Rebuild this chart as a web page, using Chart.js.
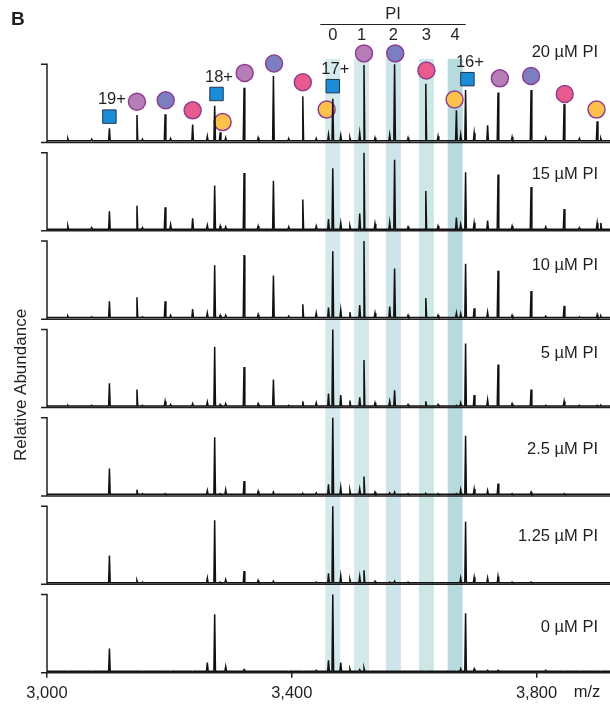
<!DOCTYPE html>
<html>
<head>
<meta charset="utf-8">
<script src="https://cdn.jsdelivr.net/npm/chart.js@4"></script>
<style>
  body { margin: 0; background: #fff; }
</style>
</head>
<body>
<canvas id="ms" width="610" height="704"></canvas>
<script>
// panels, top to bottom
const panelLabels = ['20 µM PI', '15 µM PI', '10 µM PI', '5 µM PI', '2.5 µM PI', '1.25 µM PI', '0 µM PI'];

// main peaks: 19+ (0-4 PI), 18+ (0-4), 17+ (0-4), 16+ (0-4); 18+ with 4 PI sits under 17+ apo
const peakMz = [3102, 3147, 3193, 3238, 3274, 3283, 3322, 3370, 3418, 3467, 3518, 3568, 3619, 3669, 3684, 3737, 3791, 3845, 3899];
const peaks20 = [18, 35, 36, 23, 47, 13, 70, 85, 59, 56, 99, 100, 75, 41, 67, 64, 67, 49, 27];
const peaks15 = [25, 32, 30, 16, 58, 6, 74, 64, 40, 80, 100, 91, 51, 17, 75, 72, 56, 28, 10];
const peaks10 = [23, 28, 23, 13, 69, 5, 82, 56, 19, 87, 100, 65, 27, 8, 71, 62, 36, 17, 6];
const peaks5 = [31, 23, 8, 5, 78, 4, 52, 36, 8, 100, 61, 22, 8, 3, 82, 55, 23, 8, 3];
const peaks2p5 = [35, 8, 3, 2, 75, 3, 19, 5, 3, 100, 25, 5, 3, 3, 77, 16, 5, 3, 2];
const peaks1p25 = [37, 5, 2, 2, 82, 3, 17, 4, 2, 100, 18, 4, 2, 2, 80, 10, 3, 2, 2];
const peaks0 = [31, 2, 1, 1, 75, 2, 4, 2, 1, 100, 6, 2, 1, 1, 76, 3, 2, 1, 1];

// small adduct / noise spikes
const minorMz = [3034, 3073, 3156, 3202, 3262, 3292, 3345, 3395, 3440, 3460, 3480, 3495, 3511, 3536, 3560, 3590, 3639, 3676, 3698, 3720, 3760, 3815, 3870, 3905];
const minor20 = [5, 4, 4, 5, 8, 6, 6, 5, 5, 10, 9, 6, 12, 6, 10, 6, 8, 10, 12, 22, 7, 6, 5, 5];
const minor15 = [6, 4, 4, 8, 7, 5, 6, 5, 6, 15, 10, 6, 22, 9, 11, 5, 6, 8, 10, 13, 6, 5, 4, 10];
const minor10 = [4, 3, 3, 5, 8, 5, 6, 4, 8, 15, 12, 9, 18, 8, 16, 5, 5, 7, 14, 9, 5, 4, 3, 4];
const minor5 = [3, 3, 3, 4, 7, 5, 5, 3, 6, 18, 16, 9, 13, 6, 8, 4, 4, 6, 16, 10, 5, 3, 3, 3];
const minor2p5 = [2, 2, 3, 2, 7, 8, 6, 2, 4, 15, 11, 7, 9, 5, 4, 3, 3, 8, 9, 7, 3, 2, 2, 2];
const minor1p25 = [2, 2, 3, 2, 8, 6, 5, 2, 3, 14, 11, 6, 10, 4, 3, 3, 2, 8, 9, 8, 3, 2, 2, 2];
const minor0 = [1, 1, 1, 1, 13, 8, 2, 1, 3, 16, 13, 5, 4, 2, 2, 2, 2, 5, 5, 3, 2, 3, 1, 1];

const panelPeaks = [peaks20, peaks15, peaks10, peaks5, peaks2p5, peaks1p25, peaks0];
const panelMinor = [minor20, minor15, minor10, minor5, minor2p5, minor1p25, minor0];

// symbols above the 20 uM spectrum
const markerMz = [3102, 3147, 3194, 3238, 3277, 3287, 3323, 3371, 3418, 3457, 3467, 3518, 3569, 3620, 3666, 3687, 3740, 3791, 3846, 3898];
const markerLevel = [33, 52, 54, 41, 62, 26, 89, 101, 77, 42, 72, 114, 114, 92, 55, 81, 82, 85, 62, 42];
const markerKind = ['sq', 'pur', 'blu', 'pink', 'sq', 'yel', 'pur', 'blu', 'pink', 'yel', 'sq', 'pur', 'blu', 'pink', 'yel', 'sq', 'pur', 'blu', 'pink', 'yel'];
const chargeLabels = ['19+', '18+', '17+', '16+'];

// PI-bound 17+ bands
const bandMz = [3467, 3514, 3566, 3620, 3667];
const bandLabels = ['0', '1', '2', '3', '4'];
const xTicks = [3000, 3400, 3800];

const ink = '#231f20';
const font = '"Liberation Sans", Arial, sans-serif';
const bandColors = ['#d6e9ed', '#d4e9e9', '#cde4ea', '#cde6e6', '#b7dadf'];
const bandHalf = 12.25;
const fills = { sq: '#1a8cd8', pur: '#b67db6', blu: '#7b7fc1', pink: '#e95a8d', yel: '#fcc24c' };
const labelRaise = [90, 56, 54, 54, 46, 48, 45];
const base = 2;

function trace(main, minor) {
  const pts = [];
  peakMz.forEach((m, i) => pts.push([m, main[i]]));
  minorMz.forEach((m, i) => pts.push([m, minor[i]]));
  pts.sort((a, b) => a[0] - b[0]);
  const out = [{x: 3000, y: base}];
  pts.forEach(function(p) {
    out.push({x: p[0] - 1.3, y: base}, {x: p[0], y: p[1]}, {x: p[0] + 1.3, y: base});
  });
  out.push({x: 3920, y: base});
  return out;
}

const datasets = panelLabels.map(function(lab, i) {
  return {
    label: lab,
    type: 'line',
    yAxisID: 'p' + i,
    data: trace(panelPeaks[i], panelMinor[i]),
    borderColor: '#111',
    borderWidth: 1.5,
    pointRadius: 0,
    tension: 0
  };
});

datasets.push({
  label: 'markers',
  type: 'scatter',
  yAxisID: 'p0',
  data: markerMz.map((m, i) => ({x: m, y: markerLevel[i]})),
  pointStyle: markerKind.map(k => k === 'sq' ? 'rect' : 'circle'),
  pointRadius: markerKind.map(k => k === 'sq' ? 9.5 : 8.5),
  pointBackgroundColor: markerKind.map(k => fills[k]),
  pointBorderColor: markerKind.map(k => k === 'sq' ? '#1f3550' : '#8e3f94'),
  pointBorderWidth: markerKind.map(k => k === 'sq' ? 1 : 1.5),
  clip: false
});

const scales = {
  x: {
    type: 'linear',
    min: 3000,
    max: 3920,
    afterBuildTicks: function(s) { s.ticks = xTicks.map(v => ({value: v})); },
    ticks: {
      color: ink,
      font: {family: font, size: 16.5, lineHeight: 1.2},
      padding: 6,
      maxRotation: 0,
      callback: v => v.toLocaleString('en-US')
    },
    grid: {drawOnChartArea: false, drawTicks: true, tickLength: 5, color: ink, lineWidth: 1.5},
    border: {display: false}
  }
};
panelLabels.forEach(function(lab, i) {
  scales['p' + i] = {
    type: 'linear',
    position: 'left',
    stack: 'panels',
    stackWeight: 1,
    weight: 10 - i,
    min: 0,
    max: 113.2,
    display: false
  };
});

const decor = {
  id: 'decor',
  beforeDatasetsDraw(chart) {
    const ctx = chart.ctx, x = chart.scales.x, area = chart.chartArea;
    const yTop = chart.scales.p0.getPixelForValue(107);
    ctx.save();
    bandMz.forEach(function(m, i) {
      const l = x.getPixelForValue(m - bandHalf), r = x.getPixelForValue(m + bandHalf);
      ctx.fillStyle = bandColors[i];
      ctx.fillRect(l, yTop, r - l, area.bottom - yTop);
    });
    ctx.strokeStyle = ink;
    ctx.lineWidth = 1.5;
    panelLabels.forEach(function(lab, i) {
      const s = chart.scales['p' + i];
      const y0 = s.getPixelForValue(0), y1 = s.getPixelForValue(100);
      ctx.beginPath();
      ctx.moveTo(area.left - 6, y1);
      ctx.lineTo(area.left, y1);
      ctx.lineTo(area.left, y0);
      ctx.moveTo(area.left - 6, y0);
      ctx.lineTo(area.right, y0);
      ctx.stroke();
    });
    ctx.restore();
  },
  afterDatasetsDraw(chart) {
    const ctx = chart.ctx, x = chart.scales.x, area = chart.chartArea, p0 = chart.scales.p0;
    ctx.save();
    ctx.fillStyle = ink;
    ctx.textBaseline = 'middle';
    ctx.font = '16.5px ' + font;
    ctx.textAlign = 'right';
    panelLabels.forEach(function(lab, i) {
      const y0 = chart.scales['p' + i].getPixelForValue(0);
      ctx.fillText(lab, 598, y0 - labelRaise[i]);
    });
    // charge state labels over the squares
    ctx.textAlign = 'center';
    let c = 0;
    markerMz.forEach(function(m, i) {
      if (markerKind[i] !== 'sq') return;
      ctx.fillText(chargeLabels[c++], x.getPixelForValue(m) + 2.5, p0.getPixelForValue(markerLevel[i]) - 17);
    });
    // PI header
    const l = x.getPixelForValue(bandMz[0] - bandHalf) - 5;
    const r = x.getPixelForValue(bandMz[4] + bandHalf) + 3;
    ctx.fillText('PI', (l + r) / 2, 14);
    bandMz.forEach(function(m, i) {
      ctx.fillText(bandLabels[i], x.getPixelForValue(m), 35);
    });
    ctx.strokeStyle = ink;
    ctx.lineWidth = 1.2;
    ctx.beginPath();
    ctx.moveTo(l, 24.5);
    ctx.lineTo(r, 24.5);
    ctx.stroke();
    // axis names
    ctx.fillText('m/z', 587, 692);
    ctx.save();
    ctx.translate(21, 385);
    ctx.rotate(-Math.PI / 2);
    ctx.font = '17px ' + font;
    ctx.fillText('Relative Abundance', 0, 0);
    ctx.restore();
    ctx.textAlign = 'left';
    ctx.font = 'bold 19px ' + font;
    ctx.fillText('B', 11, 20);
    ctx.restore();
  }
};

new Chart(document.getElementById('ms'), {
  data: {datasets: datasets},
  options: {
    responsive: false,
    animation: false,
    devicePixelRatio: 1,
    layout: {autoPadding: false, padding: {left: 47, right: 0, top: 54, bottom: -5.5}},
    plugins: {legend: {display: false}, tooltip: {enabled: false}},
    scales: scales
  },
  plugins: [decor]
});
</script>
</body>
</html>
